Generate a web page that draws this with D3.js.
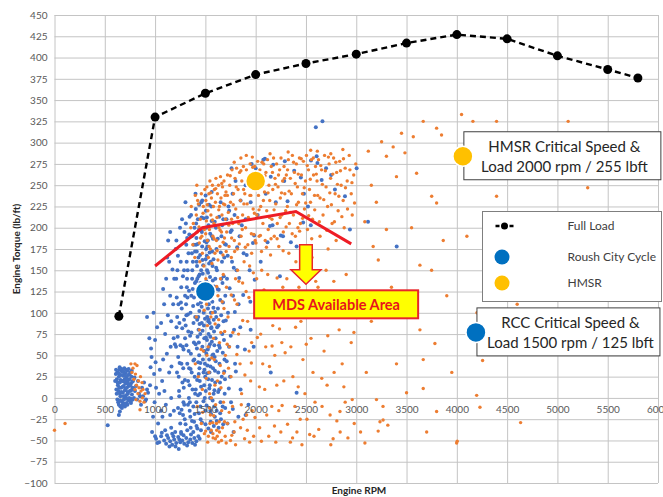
<!DOCTYPE html>
<html>
<head>
<meta charset="utf-8">
<script src="https://cdn.jsdelivr.net/npm/d3@7"></script>
<style>
  html, body { margin: 0; padding: 0; background: #fff; }
  svg { display: block; font-family: Lato, "Open Sans", sans-serif; }
</style>
</head>
<body>
<svg id="chart" width="663" height="497"></svg>
<script>
// ---- Axis ticks ----
const xTicks = [0, 500, 1000, 1500, 2000, 2500, 3000, 3500, 4000, 4500, 5000, 5500, 6000];
const yTicks = [-100, -75, -50, -25, 0, 25, 50, 75, 100, 125, 150, 175, 200, 225, 250, 275, 300, 325, 350, 375, 400, 425, 450];

// ---- Full load torque curve (rpm, lb-ft) ----
const fullLoad = [[640, 96], [1000, 330], [1500, 358], [2000, 380], [2500, 393], [3000, 404],
  [3500, 417], [4000, 427], [4500, 422], [5000, 402], [5500, 386], [5800, 376]];

// ---- Roush City Cycle operating points (rpm, lb-ft) ----
const roushCity = [
  // idle cluster
  [610,28],[620,22],[625,30],[630,15],[635,8],[640,25],[645,33],[650,18],[655,2],[660,27],[662,12],[668,-4],
  [670,31],[675,20],[680,6],[684,26],[688,14],[690,-2],[695,35],[698,22],[700,9],[705,29],[708,17],[712,3],
  [715,24],[718,-6],[720,12],[724,32],[728,19],[730,5],[735,27],[738,-3],[740,14],[745,22],[750,8],[755,30],
  [758,-1],[760,17],[765,25],[770,4],[775,12],[780,20],[640,-8],[655,-10],[670,-12],[700,-10],[725,-8],[650,5],
  [680,-6],[705,0],[690,30],[615,10],[625,-2],[760,-6],[790,0],[800,8],[820,-2],[840,5],[860,-8],[880,2],
  [900,-4],[920,10],[529,-32],[650,-16],[640,-20],
  [603,20],[612,33],[618,5],[627,18],[633,-5],[638,29],[643,12],[648,36],[652,-3],[658,21],[664,7],[667,34],
  [673,-9],[677,13],[683,31],[687,2],[693,19],[697,-7],[702,26],[707,11],[711,33],[716,-1],[722,21],[727,7],
  [733,16],[737,34],[742,0],[747,28],[752,15],[757,-4],[763,9],[768,32],[773,19],[778,-2],[785,11],[795,24],
  [810,14],[830,20],[850,2],[870,12],[890,18],[910,-2],[930,6],[950,15],
  // 900-1200 rpm
  [920,95],[985,100],[960,58],[965,48],[955,36],[1000,68],[990,28],[1010,12],[995,-5],[980,-22],[970,-40],
  [1000,-45],[1030,-30],[1060,-15],[1040,5],[1070,20],[1080,45],[1100,75],[1090,110],[1110,140],[1120,165],
  [1130,185],[1080,128],[1060,88],[1150,195],[1140,160],[1150,120],[1160,90],[1155,60],[1140,30],[1160,0],
  [1150,-20],[1170,-42],[1180,110],[1185,70],[1190,140],
  [1073,-22],[1093,8],[1117,52],[1127,97],[1163,37],[1173,151],[1187,-15],[1197,63],[1107,-8],[1047,33],
  [1020,83],[943,70],[1005,42],
  // low-load band
  [1010,-48],[1040,-52],[1060,-45],[1090,-50],[1110,-54],[1130,-47],[1150,-51],[1170,-55],[1190,-49],[1210,-53],
  [1230,-46],[1250,-52],[1235,-60],[1270,-50],[1290,-54],[1310,-47],[1330,-52],[1350,-49],[1370,-53],[1390,-47],
  [1410,-51],[1430,-45],[1200,-40],[1260,-42],[1320,-38],[1380,-40],[1420,-36],[1100,-38],[1160,-35],
  [1023,-53],[1067,-41],[1118,-44],[1143,-57],[1182,-45],[1203,-57],[1242,-49],[1283,-44],[1318,-56],[1357,-43],
  [1397,-55],[1443,-48],
  // 1200-1300 rpm
  [1205,175],[1210,140],[1215,118],[1220,95],[1225,72],[1230,48],[1235,25],[1240,2],[1245,-18],[1250,-30],
  [1255,160],[1260,130],[1265,105],[1270,82],[1275,60],[1280,35],[1285,12],[1290,-8],[1295,-25],[1212,185],
  [1222,150],[1232,110],[1242,88],[1252,62],[1262,40],[1272,18],[1282,-5],[1292,195],[1218,30],[1228,-12],
  [1248,200],[1268,210],[1288,150],[1298,120],[1208,60],[1238,8],[1258,-40],[1278,-20],[1298,70],[1288,92],
  [1213,83],[1227,167],[1244,41],[1257,112],[1263,-14],[1277,143],[1283,57],[1296,21],
  // 1300-1400 rpm
  [1302,230],[1306,205],[1310,180],[1314,160],[1318,140],[1322,118],[1326,98],[1330,78],[1334,55],[1338,35],
  [1342,15],[1346,-5],[1350,-22],[1354,-35],[1358,215],[1362,190],[1366,170],[1370,150],[1374,128],[1378,108],
  [1382,88],[1386,65],[1390,45],[1394,25],[1398,5],[1304,85],[1312,62],[1320,40],[1328,20],[1336,0],
  [1344,-15],[1352,100],[1360,120],[1368,140],[1376,160],[1384,180],[1392,200],[1308,110],[1316,130],[1324,150],
  [1332,170],[1340,192],[1348,73],[1356,52],[1364,30],[1372,10],[1380,-10],[1388,-28],[1396,135],[1399,95],
  [1303,-31],[1311,97],[1319,188],[1327,-8],[1337,126],[1343,213],[1353,34],[1361,77],[1367,-27],[1373,191],
  [1381,44],[1387,118],[1393,-19],[1397,172],
  // 1400-1500 rpm
  [1402,240],[1405,222],[1408,205],[1411,188],[1414,172],[1417,155],[1420,140],[1423,125],[1426,110],[1429,95],
  [1432,80],[1435,65],[1438,50],[1441,35],[1444,20],[1447,5],[1450,-10],[1453,-25],[1456,-38],[1459,230],
  [1462,212],[1465,195],[1468,178],[1471,162],[1474,146],[1477,130],[1480,115],[1483,100],[1486,85],[1489,70],
  [1492,55],[1495,40],[1498,25],[1404,10],[1410,-5],[1416,58],[1422,72],[1428,42],[1434,28],[1440,102],
  [1446,118],[1452,135],[1458,150],[1464,88],[1470,60],[1476,45],[1482,30],[1488,15],[1494,0],[1499,-15],
  [1407,180],[1413,160],[1419,92],[1425,210],[1431,165],[1437,198],[1443,145],[1449,75],[1455,112],[1461,128],
  [1403,63],[1409,137],[1412,-33],[1418,21],[1424,181],[1427,3],[1433,143],[1436,-18],[1439,227],[1442,87],
  [1448,168],[1451,41],[1454,197],[1457,13],[1463,107],[1466,-29],[1469,232],[1472,79],[1478,156],[1481,-4],
  [1484,211],[1487,131],[1490,33],[1493,184],[1496,93],
  // 1500-1600 rpm
  [1502,238],[1505,220],[1508,200],[1511,183],[1514,167],[1517,150],[1520,135],[1523,120],[1526,105],[1529,90],
  [1532,75],[1535,60],[1538,45],[1541,30],[1544,15],[1547,0],[1550,-15],[1553,-28],[1556,-40],[1559,225],
  [1562,208],[1565,190],[1568,172],[1571,155],[1574,138],[1577,122],[1580,106],[1583,92],[1586,78],[1589,62],
  [1592,48],[1595,32],[1598,18],[1504,8],[1510,52],[1516,68],[1522,38],[1528,22],[1534,110],[1540,128],
  [1546,142],[1552,160],[1558,82],[1564,66],[1570,50],[1576,35],[1582,5],[1588,-10],[1594,-22],[1599,140],
  [1507,175],[1513,115],[1519,95],[1525,185],[1531,203],[1537,158],[1543,88],[1549,72],[1555,100],[1561,118],
  [1501,-31],[1503,163],[1506,71],[1509,137],[1512,-9],[1515,212],[1518,29],[1521,178],[1524,57],[1527,147],
  [1530,-36],[1533,92],[1536,227],[1539,11],[1542,171],[1545,63],[1548,193],[1551,37],[1554,131],[1557,-19],
  [1560,83],[1563,242],[1566,21],[1569,113],[1572,-3],[1575,187],[1578,51],[1581,163],[1584,-33],[1587,131],
  [1590,9],[1593,207],[1596,101],
  // 1600-1850 rpm
  [1605,200],[1610,175],[1615,150],[1620,128],[1625,105],[1630,85],[1635,62],[1640,40],[1645,18],[1650,-5],
  [1655,-25],[1660,190],[1665,160],[1670,135],[1675,112],[1680,90],[1685,68],[1690,45],[1695,22],[1608,95],
  [1618,55],[1628,30],[1638,10],[1648,115],[1658,140],[1668,75],[1678,210],[1688,165],[1698,120],[1612,-15],
  [1632,-35],[1652,230],[1672,-10],[1692,5],[1602,70],
  [1603,43],[1607,153],[1613,-27],[1617,83],[1623,187],[1627,7],[1633,127],[1637,213],[1643,59],[1647,-18],
  [1653,171],[1657,97],[1663,25],[1667,203],[1673,53],[1677,-31],[1683,143],[1687,31],[1693,181],[1697,-12],
  [1705,180],[1715,140],[1725,100],[1735,60],[1745,25],[1755,-5],[1765,160],[1775,120],[1785,80],[1795,40],
  [1710,210],[1730,225],[1750,195],[1770,240],[1790,215],[1810,150],[1830,110],[1820,60],[1840,190],[1720,-30],
  [1850,10],[1900,-20],[1780,-40],[1950,80],
  [1703,91],[1712,43],[1722,167],[1733,11],[1741,129],[1752,73],[1761,197],[1773,-13],[1782,153],[1793,101],
  [1803,31],[1816,177],[1828,-22],[1836,141],[1847,83],[1862,203],[1876,121],[1893,57],[1911,168],[1928,-8],
  [1947,113],[1973,182],[1990,139],
  // higher load, higher speed
  [1850,232],[1737,220],[1985,191],[2118,183],[2250,191],[2168,203],[2350,183],[2548,203],[2092,281],[2174,274],
  [2290,278],[2076,280],[2550,279],[2606,284],[2614,276],[2598,318],[2664,325],[2317,231],[2284,255],[2383,267],
  [2449,259],[2656,256],[2788,245],[2888,237],[2937,198],[3004,270],[3402,178],[3117,207],[2472,206],[2142,202],
  [2272,190],[2407,178],[2241,143],[2407,6],[1900,250],[1950,230],[2020,215],[1880,170],[1940,150],[2000,120],
  [2050,160],[2100,240],[2200,230],[2150,260],[1800,255],[1760,270],[2480,240],[2520,225],[2700,270],[2750,262],
  [2000,270],[1960,275],[1900,210],[2060,100],[1980,60],[2150,30]
];

// ---- HMSR operating points (rpm, lb-ft) ----
const hmsr = [
  [0,-38],[105,-30],
  // idle
  [780,35],[790,22],[800,10],[805,28],[810,-2],[815,15],[820,38],[830,5],[835,20],[840,12],[850,-4],[855,25],
  [860,8],[870,18],[875,0],[880,10],[890,-5],[760,40],[770,30],[900,5],[850,-14],[800,40],
  // 1350-1500 rpm
  [1360,225],[1380,205],[1400,238],[1410,215],[1420,195],[1430,228],[1440,182],[1450,210],[1460,240],[1470,170],
  [1480,225],[1490,198],[1495,245],[1375,180],[1395,165],[1415,250],[1445,160],[1465,190],[1485,155],[1355,200],
  [1400,40],[1420,-10],[1440,80],[1460,-30],[1470,10],[1480,55],[1490,-42],[1450,120],[1430,25],[1410,95],
  [1423,232],[1437,201],[1452,188],[1477,217],[1457,57],[1473,-17],[1487,103],
  // 1500-1700 rpm
  [1505,232],[1510,208],[1515,248],[1520,185],[1525,220],[1530,165],[1535,240],[1540,198],[1545,255],[1550,175],
  [1555,215],[1560,235],[1565,158],[1570,250],[1575,190],[1580,225],[1585,205],[1590,245],[1595,170],[1600,230],
  [1605,258],[1610,185],[1615,212],[1620,240],[1625,162],[1630,250],[1635,200],[1640,225],[1645,178],[1650,260],
  [1655,235],[1660,195],[1665,215],[1670,248],[1675,168],[1680,228],[1685,255],[1690,188],[1695,238],[1700,210],
  [1505,140],[1512,110],[1520,85],[1528,60],[1535,30],[1542,5],[1550,-20],[1558,-38],[1565,130],[1572,100],
  [1580,70],[1588,45],[1595,15],[1602,-8],[1610,-30],[1618,-45],[1625,120],[1632,92],[1640,65],[1648,38],
  [1655,12],[1662,-15],[1670,-35],[1678,145],[1685,105],[1692,78],[1699,50],[1530,-45],[1545,-30],[1575,-42],
  [1600,-48],[1640,-40],[1660,-50],[1690,-28],[1515,50],[1555,95],[1585,125],[1620,20],[1650,140],[1680,-5],[1560,0],
  [1503,193],[1519,227],[1537,178],[1553,241],[1571,209],[1587,187],[1603,246],[1617,173],[1633,221],[1647,197],
  [1663,252],[1677,183],[1693,227],
  [1509,23],[1527,123],[1541,-12],[1563,47],[1583,-21],[1597,87],[1613,131],[1631,-52],[1653,77],[1667,113],
  [1683,29],[1697,-45],[1523,-52],[1577,-47],[1613,-38],[1573,-29],[1503,-39],[1637,-28],
  // 1700-2000 rpm
  [1705,242],[1712,195],[1720,262],[1728,218],[1735,178],[1742,250],[1750,230],[1758,165],[1765,268],[1772,205],
  [1780,240],[1788,185],[1795,258],[1802,222],[1810,270],[1818,175],[1825,245],[1832,205],[1840,265],[1848,232],
  [1855,190],[1862,255],[1870,215],[1878,272],[1885,160],[1892,240],[1900,200],[1908,268],[1915,228],[1922,180],
  [1930,258],[1938,210],[1945,275],[1952,238],[1960,170],[1968,262],[1975,222],[1982,192],[1990,272],[1998,245],
  [1760,210],[1820,150],[1880,245],[1940,155],[1995,185],
  [1707,172],[1719,238],[1733,203],[1747,261],[1761,188],[1777,227],[1791,172],[1807,248],[1821,212],[1837,181],
  [1853,267],[1867,198],[1883,228],[1897,177],[1913,253],[1927,212],[1943,238],[1957,193],[1971,271],[1987,217],
  [1787,277],[1853,282],[1907,285],[1967,283],
  [1710,130],[1725,95],[1740,60],[1755,25],[1770,-10],[1785,-40],[1800,140],[1815,110],[1830,75],[1845,40],
  [1860,5],[1875,-25],[1890,-48],[1905,125],[1920,90],[1935,55],[1950,20],[1965,-15],[1980,-45],[1995,100],
  [1720,-30],[1750,-50],[1790,115],[1850,-35],[1910,-20],[1960,65],[1870,135],[1730,35],[1800,-55],[1940,-52],
  [1717,63],[1737,-17],[1757,121],[1773,77],[1793,-28],[1813,51],[1833,137],[1857,-8],[1871,91],[1893,27],
  [1917,-38],[1933,118],[1957,41],[1977,147],[1993,-23],[1707,-53],[1763,-44],
  // 2000-2300 rpm
  [2005,260],[2012,215],[2020,278],[2028,238],[2035,190],[2042,268],[2050,225],[2058,172],[2065,255],[2072,205],
  [2080,275],[2088,242],[2095,185],[2102,265],[2110,220],[2118,280],[2125,198],[2132,250],[2140,232],[2148,168],
  [2155,272],[2162,210],[2170,245],[2178,282],[2185,190],[2192,258],[2200,228],[2208,275],[2215,205],[2222,248],
  [2230,178],[2238,268],[2245,235],[2252,282],[2260,215],[2268,255],[2275,195],[2282,272],[2290,240],[2298,220],
  [2003,182],[2017,247],[2033,221],[2047,191],[2063,277],[2077,232],[2093,261],[2107,177],[2123,241],[2137,212],
  [2153,187],[2167,265],[2183,221],[2197,251],[2213,187],[2227,262],[2243,212],[2257,241],[2273,173],[2287,258],
  [2143,287],
  [2010,140],[2030,110],[2050,75],[2070,40],[2090,10],[2110,-20],[2130,-45],[2150,125],[2170,85],[2190,50],
  [2210,15],[2230,-15],[2250,-40],[2270,130],[2290,95],[2040,-35],[2100,60],[2160,-10],[2220,105],[2280,20],
  [2060,150],[2120,145],[2200,-52],[2260,65],
  [2017,71],[2037,13],[2057,-51],[2083,127],[2107,97],[2137,37],[2163,61],[2187,-33],[2213,141],[2237,81],
  [2263,-9],[2293,53],
  // 2300-2600 rpm
  [2305,262],[2315,225],[2325,280],[2335,205],[2345,258],[2355,240],[2365,285],[2375,215],[2385,265],[2395,190],
  [2405,275],[2415,248],[2425,230],[2435,282],[2445,205],[2455,262],[2465,240],[2475,278],[2485,222],[2495,255],
  [2505,285],[2515,198],[2525,268],[2535,245],[2545,230],[2555,280],[2565,210],[2575,262],[2585,238],[2595,272],
  [2330,170],[2400,160],[2480,175],[2560,165],[2420,200],
  [2303,201],[2317,268],[2333,243],[2347,218],[2363,193],[2377,277],[2393,252],[2407,227],[2423,263],[2437,196],
  [2453,281],[2467,211],[2483,247],[2497,229],[2513,273],[2527,214],[2543,257],[2557,187],[2573,282],[2587,221],
  [2323,289],[2547,291],
  [2310,140],[2330,100],[2350,60],[2370,25],[2390,-10],[2410,-40],[2430,130],[2450,90],[2470,45],[2490,5],
  [2510,-25],[2530,110],[2550,70],[2570,30],[2590,-5],[2345,-52],[2460,-55],[2580,-45],[2380,120],[2500,150],
  [2317,-31],[2343,117],[2367,-47],[2397,83],[2423,13],[2443,-25],[2477,117],[2503,63],[2537,-43],[2567,97],
  [2597,137],
  // 2600-3000 rpm
  [2610,255],[2625,280],[2640,235],[2655,268],[2670,215],[2685,285],[2700,248],[2715,225],[2730,275],[2745,258],
  [2760,205],[2775,282],[2790,240],[2805,265],[2820,220],[2835,278],[2850,250],[2870,232],[2890,270],[2910,255],
  [2930,285],[2950,240],[2975,262],[2995,275],[2640,190],[2720,175],[2800,185],[2880,200],[2960,215],
  [2603,263],[2617,238],[2633,207],[2647,273],[2663,251],[2677,233],[2693,267],[2707,197],[2723,283],[2737,241],
  [2753,227],[2767,263],[2783,207],[2797,277],[2813,251],[2827,237],[2843,267],[2857,213],[2873,281],[2893,247],
  [2913,222],[2937,268],[2957,253],[2983,229],[2613,290],[2867,292],[2747,287],
  [2620,130],[2650,95],[2680,55],[2710,15],[2740,-20],[2770,-48],[2800,120],[2830,80],[2860,40],[2890,-5],
  [2920,110],[2950,65],[2980,-30],[2700,150],[2760,100],[2840,-40],[2900,145],[2660,-10],[2780,30],
  [2627,-37],[2657,23],[2687,117],[2717,73],[2747,-55],[2777,137],[2807,-27],[2847,97],[2877,13],[2917,-47],
  [2947,123],[2977,77],
  // above 3000 rpm
  [3085,207],[3168,178],[3300,198],[3219,162],[3633,156],[3749,150],[3865,185],[3466,99],[3633,80],[3782,64],
  [3666,45],[3500,6],[3201,-2],[3267,-26],[3666,11],[3799,-16],[4004,-51],[3266,-10],[3236,-28],[3314,-32],
  [3218,-39],[3043,-40],[3086,-53],[3998,-53],[4230,-11],[4197,3],[4634,-29],[2960,-2],[2838,-16],[3666,325],
  [3799,317],[4047,333],[3848,309],[3450,311],[3567,307],[3252,301],[3367,295],[3484,288],[3300,284],[3600,264],
  [3750,237],[3799,229],[4160,325],[4395,325],[5107,325],[5301,247],[4256,44],[4395,237],[3150,250],[3050,120],
  [3150,90],[3350,130],[3400,40],[3100,30],[3550,200],[3900,120],[4100,190],[4300,150],[4200,100],[3950,30],
  [3700,-40],[4450,60],[3400,260],[3200,230],[3120,290],[4600,110]
];

// ---- Critical speed/load points ----
const rccCritical = [1500, 125];
const hmsrCritical = [2000, 255];

// ---- MDS boundary ----
const mdsBoundary = [[1000, 155], [1470, 200], [2400, 219], [2950, 181]];

// ---- Callout anchors (rpm, lb-ft) ----
const hmsrCallout = { at: [4060, 284], lines: ["HMSR Critical Speed &", "Load 2000 rpm / 255 lbft"] };
const rccCallout = { at: [4190, 77], lines: ["RCC Critical Speed &", "Load 1500 rpm / 125 lbft"] };
const mdsLabel = { arrowAt: [2500, 180], boxAt: [2800, 110], text: "MDS Available Area" };

const legendItems = ["Full Load", "Roush City Cycle", "HMSR"];

const colors = { city: "#4472c4", hmsr: "#ed7d31", cityBig: "#0070c0", hmsrBig: "#ffc000" };

const svg = d3.select("#chart");
const x = d3.scaleLinear().domain([0, 6000]).range([54.5, 658]);
const y = d3.scaleLinear().domain([-100, 450]).range([483, 15]);

// gridlines
const grid = svg.append("g");
grid.append("g")
  .attr("transform", `translate(0,${y(-100)})`)
  .call(d3.axisBottom(x).tickValues(xTicks).tickSize(-(y(-100) - y(450))).tickFormat(""))
  .call(g => g.select(".domain").remove())
  .call(g => g.selectAll("line").attr("stroke", "#c4c4c4"));
grid.append("g")
  .attr("transform", `translate(${x(0)},0)`)
  .call(d3.axisLeft(y).tickValues(yTicks).tickSize(-(x(6000) - x(0))).tickFormat(""))
  .call(g => g.select(".domain").remove())
  .call(g => g.selectAll("line").attr("stroke", "#c4c4c4"));

// y tick labels
svg.append("g")
  .attr("transform", `translate(${x(0)},0)`)
  .call(d3.axisLeft(y).tickValues(yTicks).tickSize(0).tickPadding(7))
  .call(g => g.select(".domain").remove())
  .call(g => g.selectAll("text").attr("font-family", "Lato, sans-serif").attr("font-size", 10).attr("fill", "#595959"));

// scatter series
svg.append("g").selectAll("circle").data(roushCity).join("circle")
  .attr("cx", d => x(d[0])).attr("cy", d => y(d[1])).attr("r", 2).attr("fill", colors.city);
svg.append("g").selectAll("circle").data(hmsr).join("circle")
  .attr("cx", d => x(d[0])).attr("cy", d => y(d[1])).attr("r", 1.7).attr("fill", colors.hmsr);

// x tick labels along the zero line
svg.append("g")
  .attr("transform", `translate(0,${y(0)})`)
  .call(d3.axisBottom(x).tickValues(xTicks).tickSize(0).tickPadding(8).tickFormat(d3.format("d")))
  .call(g => g.select(".domain").remove())
  .call(g => g.selectAll("text").attr("font-family", "Lato, sans-serif").attr("font-size", 10).attr("fill", "#595959"));

// full load curve
const line = d3.line().x(d => x(d[0])).y(d => y(d[1]));
svg.append("path").datum(fullLoad).attr("d", line)
  .attr("fill", "none").attr("stroke", "#000").attr("stroke-width", 2.4).attr("stroke-dasharray", "6,4");
svg.append("g").selectAll("circle").data(fullLoad).join("circle")
  .attr("cx", d => x(d[0])).attr("cy", d => y(d[1])).attr("r", 4.5).attr("fill", "#000");

// MDS boundary
svg.append("path").datum(mdsBoundary).attr("d", line)
  .attr("fill", "none").attr("stroke", "#ee1c25").attr("stroke-width", 3);

// critical points
svg.append("circle").attr("cx", x(rccCritical[0])).attr("cy", y(rccCritical[1])).attr("r", 10)
  .attr("fill", colors.cityBig).attr("stroke", "#fff").attr("stroke-width", 1.5);
svg.append("circle").attr("cx", x(hmsrCritical[0])).attr("cy", y(hmsrCritical[1])).attr("r", 10)
  .attr("fill", colors.hmsrBig).attr("stroke", "#fff").attr("stroke-width", 1.5);

// MDS arrow and label
{
  const ax = x(mdsLabel.arrowAt[0]), ay = y(mdsLabel.arrowAt[1]);
  const pts = [[ax - 6.3, ay], [ax + 6.3, ay], [ax + 6.3, ay + 25], [ax + 15, ay + 25], [ax, ay + 39.5],
    [ax - 15, ay + 25], [ax - 6.3, ay + 25]];
  svg.append("polygon").attr("points", pts.map(p => p.join(",")).join(" "))
    .attr("fill", "#ffff00").attr("stroke", "#e8262b").attr("stroke-width", 1.5);
  const bx = x(mdsLabel.boxAt[0]), by = y(mdsLabel.boxAt[1]);
  svg.append("rect").attr("x", bx - 82).attr("y", by - 14).attr("width", 164).attr("height", 28)
    .attr("fill", "#ffff00").attr("stroke", "#e8262b").attr("stroke-width", 2);
  svg.append("text").attr("x", bx).attr("y", by).attr("dy", "0.36em").attr("text-anchor", "middle")
    .attr("font-family", "Lato, sans-serif").attr("font-weight", "bold").attr("font-size", 14.5)
    .attr("fill", "#e8141c").text(mdsLabel.text);
}

// callouts
function callout(c, color, w) {
  const cx = x(c.at[0]), cy = y(c.at[1]);
  const g = svg.append("g");
  g.append("rect").attr("x", cx + 1).attr("y", cy - 24.5).attr("width", w).attr("height", 48)
    .attr("fill", "#fff").attr("stroke", "#404040").attr("stroke-width", 1);
  g.selectAll("text").data(c.lines).join("text")
    .attr("x", cx + 1 + w / 2 + 2).attr("y", (d, i) => cy - 10 + i * 20).attr("dy", "0.35em")
    .attr("text-anchor", "middle").attr("font-family", "Lato, sans-serif").attr("font-size", 15)
    .attr("fill", "#262626").text(d => d);
  g.append("circle").attr("cx", cx).attr("cy", cy).attr("r", 10).attr("fill", color)
    .attr("stroke", "#fff").attr("stroke-width", 1.5);
}
callout(hmsrCallout, colors.hmsrBig, 197);
callout(rccCallout, colors.cityBig, 183);

// legend
{
  const lg = svg.append("g").attr("transform", "translate(482.5,211.5)");
  lg.append("rect").attr("width", 179).attr("height", 90).attr("fill", "#fff")
    .attr("stroke", "#7f7f7f").attr("stroke-width", 1);
  const rows = [14.5, 45.5, 71.5];
  lg.append("line").attr("x1", 13).attr("x2", 31).attr("y1", rows[0]).attr("y2", rows[0])
    .attr("stroke", "#000").attr("stroke-width", 2.4).attr("stroke-dasharray", "4,3");
  lg.append("circle").attr("cx", 22).attr("cy", rows[0]).attr("r", 3.5).attr("fill", "#000");
  lg.append("circle").attr("cx", 19.5).attr("cy", rows[1]).attr("r", 7.5).attr("fill", colors.cityBig);
  lg.append("circle").attr("cx", 19.5).attr("cy", rows[2]).attr("r", 7.5).attr("fill", colors.hmsrBig);
  lg.selectAll("text").data(legendItems).join("text")
    .attr("x", 85).attr("y", (d, i) => rows[i]).attr("dy", "0.35em")
    .attr("font-family", "Lato, sans-serif").attr("font-size", 12).attr("fill", "#404040").text(d => d);
}

// axis titles
svg.append("text").attr("x", 359).attr("y", 494).attr("text-anchor", "middle")
  .attr("font-family", "Lato, sans-serif").attr("font-weight", "bold").attr("font-size", 10)
  .attr("fill", "#262626").text("Engine RPM");
svg.append("text").attr("transform", "translate(20,249) rotate(-90)").attr("text-anchor", "middle")
  .attr("font-family", "Lato, sans-serif").attr("font-weight", "bold").attr("font-size", 10)
  .attr("fill", "#262626").text("Engine Torque (lb/ft)");
</script>
</body>
</html>
